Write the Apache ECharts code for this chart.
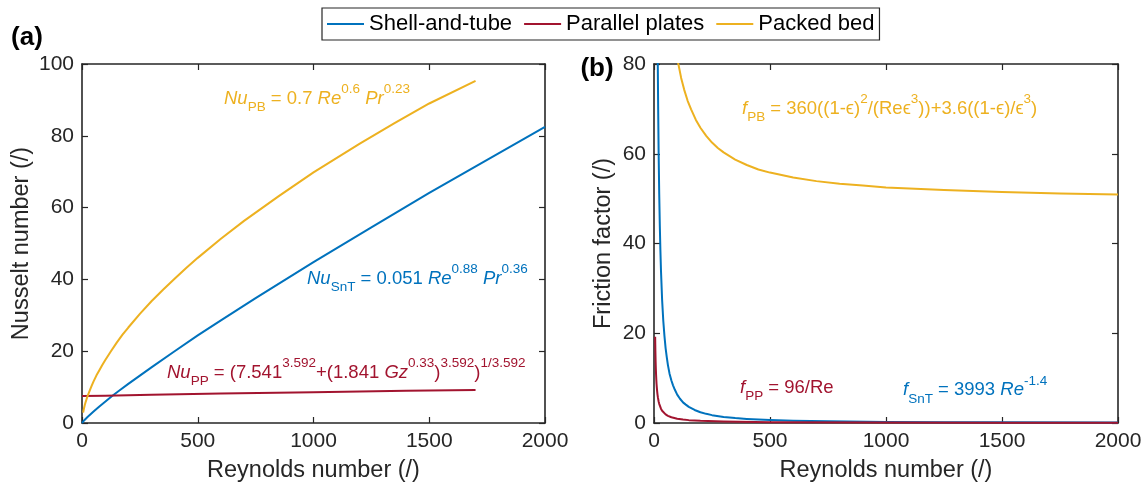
<!DOCTYPE html>
<html><head><meta charset="utf-8">
<script src="https://cdn.jsdelivr.net/npm/echarts@6/dist/echarts.min.js"></script>
<style>html,body{margin:0;padding:0;background:#fff}#c{width:1148px;height:492px}</style>
</head><body><div id="c"></div>
<script>
// ---------- data ----------
const seriesNames = ['Shell-and-tube', 'Parallel plates', 'Packed bed'];
const seriesColors = ['#0072BD', '#A2142F', '#EDB120'];
const xTickStep = 500;
const nuTickStep = 20;
const fTickStep = 20;

// (a) Nusselt number vs Reynolds number
const nuShellRe = [0, 10, 25, 50, 75, 100, 130, 160, 200, 250, 300, 400, 500, 600, 750, 1000, 1250, 1500, 1750, 2000];
const nuShell   = [0, 0.78, 1.75, 3.2, 4.6, 5.9, 7.5, 9.0, 10.9, 13.2, 15.5, 20.0, 24.4, 28.6, 34.8, 44.8, 54.5, 64.1, 73.3, 82.5];
const nuPlatesRe = [0, 100, 300, 600, 1000, 1400, 1700];
const nuPlates   = [7.55, 7.6, 7.85, 8.2, 8.6, 8.95, 9.2];
const nuBedRe = [5, 8, 12, 16, 20, 27, 35, 42, 50, 62, 75, 87, 100, 125, 150, 175, 200, 250, 300, 350, 400, 450, 500, 600, 700, 850, 1000, 1200, 1350, 1500, 1700];
const nuBed   = [2.9, 3.9, 5.0, 5.9, 6.7, 8.0, 9.3, 10.4, 11.6, 13.2, 14.7, 16.1, 17.5, 20.0, 22.4, 24.6, 26.6, 30.4, 33.9, 37.1, 40.2, 43.2, 46.0, 51.3, 56.3, 63.2, 69.8, 77.8, 83.5, 89.0, 95.3];

// (b) Friction factor vs Reynolds number
const fShellRe = [15, 16.5, 18, 20, 22.5, 25, 27.5, 30, 35, 40, 45, 50, 55, 60, 67, 75, 82, 90, 100, 112, 125, 137, 150, 175, 200, 225, 250, 300, 350, 400, 500, 600, 750, 1000, 1250, 1500, 2000];
const fShell   = [90.1, 78.9, 69.8, 60.2, 51.0, 44.1, 38.6, 34.1, 27.4, 22.8, 19.4, 16.7, 14.7, 12.9, 11.0, 9.47, 8.4, 7.4, 6.33, 5.4, 4.6, 4.1, 3.59, 2.90, 2.40, 2.04, 1.75, 1.36, 1.09, 0.91, 0.66, 0.51, 0.38, 0.25, 0.18, 0.14, 0.095];
const fPlatesRe = [5, 5.5, 6, 6.5, 7, 7.5, 8, 9, 10, 11, 12, 13.5, 15, 17, 20, 22.5, 25, 30, 35, 40, 50, 60, 75, 100, 125, 150, 200, 300, 500, 1000, 1500, 2000];
const fPlates   = [19.2, 17.5, 16, 14.8, 13.7, 12.8, 12, 10.7, 9.6, 8.7, 8, 7.1, 6.4, 5.65, 4.8, 4.27, 3.84, 3.2, 2.74, 2.4, 1.92, 1.6, 1.28, 0.96, 0.77, 0.64, 0.48, 0.32, 0.19, 0.096, 0.064, 0.048];
const fBedRe = [95, 105, 117, 130, 145, 160, 180, 200, 225, 250, 275, 300, 350, 400, 450, 500, 600, 700, 800, 900, 1000, 1250, 1500, 1750, 2000];
const fBed   = [83.2, 80.0, 76.9, 74.3, 71.8, 69.9, 67.6, 65.8, 64.0, 62.5, 61.3, 60.3, 58.7, 57.5, 56.5, 55.8, 54.7, 53.9, 53.3, 52.9, 52.5, 51.9, 51.45, 51.14, 50.9];

// ---------- helpers ----------
const FONT = "'Liberation Sans', 'DejaVu Sans', Arial, sans-serif";
const AX = '#262626';
const zip = (xs, ys) => xs.map((x, i) => [x, ys[i]]);

function mainAxis(extra) {
  return Object.assign({
    type: 'value', splitLine: { show: false },
    axisLine: { show: true, onZero: false, lineStyle: { color: AX, width: 1.6 } },
    axisTick: { show: true, inside: true, length: 6, lineStyle: { color: AX, width: 1.2 } },
    axisLabel: { color: AX, fontSize: 21, fontFamily: FONT, margin: 8, formatter: (v) => String(v) },
    nameTextStyle: { color: AX, fontSize: 23.5, fontFamily: FONT }
  }, extra);
}
function mirrorAxis(extra) {
  return Object.assign({
    type: 'value', splitLine: { show: false },
    axisLine: { show: true, onZero: false, lineStyle: { color: AX, width: 1.6 } },
    axisTick: { show: true, inside: true, length: 6, lineStyle: { color: AX, width: 1.2 } },
    axisLabel: { show: false }
  }, extra);
}
function line(nameIdx, xa, ya, data) {
  return {
    type: 'line', name: seriesNames[nameIdx], data: data, xAxisIndex: xa, yAxisIndex: ya,
    symbol: 'none', showSymbol: false, clip: true, animation: false, smooth: false,
    lineStyle: { color: seriesColors[nameIdx], width: 2, join: 'round' },
    itemStyle: { color: seriesColors[nameIdx] }
  };
}

const rich = {
  m:   { fontFamily: FONT, fontSize: 18.5, lineHeight: 32 },
  i:   { fontFamily: FONT, fontSize: 18.5, lineHeight: 32, fontStyle: 'italic' },
  sup: { fontFamily: FONT, fontSize: 13.5, lineHeight: 18, verticalAlign: 'top' },
  sub: { fontFamily: FONT, fontSize: 13.5, lineHeight: 11, verticalAlign: 'bottom' }
};
function eq(text, x, baseline, color) {
  return {
    type: 'text', x: x, y: baseline - 22.5, z: 100,
    style: { text: text, rich: rich, fill: color, align: 'left', verticalAlign: 'top',
             font: '18.5px ' + FONT }
  };
}

const gridA = { left: 82, top: 64, width: 463, height: 359 };
const gridB = { left: 654, top: 64, width: 464, height: 359 };

const option = {
  backgroundColor: '#fff',
  animation: false,
  textStyle: { fontFamily: FONT },
  legend: {
    data: seriesNames, left: 322, top: 8, orient: 'horizontal',
    icon: 'path://M0,0H37V2H0Z',
    itemWidth: 37, itemHeight: 2, itemGap: 12,
    padding: [5, 5], borderColor: AX, borderWidth: 1.2, backgroundColor: '#fff',
    textStyle: { color: '#000', fontSize: 22, fontFamily: FONT, lineHeight: 22 }
  },
  grid: [gridA, gridB],
  xAxis: [
    mainAxis({ gridIndex: 0, position: 'bottom', min: 0, max: 2000, interval: xTickStep,
      name: 'Reynolds number (/)', nameLocation: 'middle', nameGap: 36 }),
    mirrorAxis({ gridIndex: 0, position: 'top', min: 0, max: 2000, interval: xTickStep }),
    mainAxis({ gridIndex: 1, position: 'bottom', min: 0, max: 2000, interval: xTickStep,
      name: 'Reynolds number (/)', nameLocation: 'middle', nameGap: 36 }),
    mirrorAxis({ gridIndex: 1, position: 'top', min: 0, max: 2000, interval: xTickStep })
  ],
  yAxis: [
    mainAxis({ gridIndex: 0, position: 'left', min: 0, max: 100, interval: nuTickStep,
      name: 'Nusselt number (/)', nameLocation: 'middle', nameGap: 48 }),
    mirrorAxis({ gridIndex: 0, position: 'right', min: 0, max: 100, interval: nuTickStep }),
    mainAxis({ gridIndex: 1, position: 'left', min: 0, max: 80, interval: fTickStep,
      name: 'Friction factor (/)', nameLocation: 'middle', nameGap: 38 }),
    mirrorAxis({ gridIndex: 1, position: 'right', min: 0, max: 80, interval: fTickStep })
  ],
  series: [
    line(0, 0, 0, zip(nuShellRe, nuShell)),
    line(1, 0, 0, zip(nuPlatesRe, nuPlates)),
    line(2, 0, 0, zip(nuBedRe, nuBed)),
    line(0, 2, 2, zip(fShellRe, fShell)),
    line(1, 2, 2, zip(fPlatesRe, fPlates)),
    line(2, 2, 2, zip(fBedRe, fBed))
  ],
  graphic: [
    { type: 'text', x: 27, y: 38, style: { text: '(a)', fill: '#000', font: 'bold 26px ' + FONT, align: 'center', verticalAlign: 'middle' } },
    { type: 'text', x: 597, y: 69, style: { text: '(b)', fill: '#000', font: 'bold 26px ' + FONT, align: 'center', verticalAlign: 'middle' } },
    eq('{i|Nu}{sub|PB}{m| = 0.7 }{i|Re}{sup|0.6}{m| }{i|Pr}{sup|0.23}', 224, 105, seriesColors[2]),
    eq('{i|Nu}{sub|SnT}{m| = 0.051 }{i|Re}{sup|0.88}{m| }{i|Pr}{sup|0.36}', 307, 285, seriesColors[0]),
    eq('{i|Nu}{sub|PP}{m| = (7.541}{sup|3.592}{m|+(1.841 }{i|Gz}{sup|0.33}{m|)}{sup|3.592}{m|)}{sup|1/3.592}', 167, 379, seriesColors[1]),
    eq('{i|f}{sub|PB}{m| = 360((1-ϵ)}{sup|2}{m|/(Reϵ}{sup|3}{m|))+3.6((1-ϵ)/ϵ}{sup|3}{m|)}', 742, 115, seriesColors[2]),
    eq('{i|f}{sub|PP}{m| = 96/Re}', 740, 394, seriesColors[1]),
    eq('{i|f}{sub|SnT}{m| = 3993 }{i|Re}{sup|-1.4}', 903, 396.5, seriesColors[0])
  ]
};

const chart = echarts.init(document.getElementById('c'), null, { renderer: 'canvas' });
chart.setOption(option);
</script>
</body></html>
